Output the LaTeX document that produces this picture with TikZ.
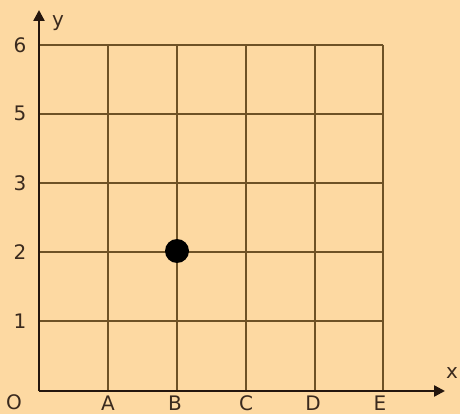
\documentclass[tikz,border=0pt]{standalone}
\usepackage{fontspec}
\setmainfont{DejaVu Sans}
\usetikzlibrary{arrows.meta}
\definecolor{bg}{HTML}{FDD9A2}
\definecolor{gridc}{HTML}{6E5226}
\definecolor{axisc}{HTML}{24160E}
\definecolor{txt}{HTML}{3A2A1E}
\tikzset{
  gridline/.style={draw=gridc, line width=1.3pt},
  axisline/.style={draw=axisc, line width=2.4pt, -{Triangle[length=11pt,width=11pt]}},
  lbl/.style={font=\fontsize{20}{20}\selectfont, text=txt, inner sep=0pt},
}
\begin{document}
\begin{tikzpicture}[x=1pt,y=-1pt]
\fill[bg] (0,0) rectangle (460,414);
\useasboundingbox (0,0) rectangle (460,414);
% grid
\foreach \gx in {108,177,246,315,383} \draw[gridline] (\gx,45) -- (\gx,390);
\foreach \gy in {45,114,183,252,321} \draw[gridline] (39,\gy) -- (383,\gy);
% axes
\coordinate (o) at (39,391);
\coordinate (yt) at (39,10);
\coordinate (xt) at (445,391);
\draw[axisline] (o) -- (yt);
\draw[axisline] (o) -- (xt);
% point
\node[circle, fill=black, minimum size=24pt, inner sep=0pt] (p) at (177,251) {};
% labels
\node[lbl] (ly) at (58,23) {y};
\node[lbl] (lx) at (452,373) {x};
\node[lbl] (l6) at (20,45) {6};
\node[lbl] (l5) at (20,113) {5};
\node[lbl] (l3) at (20,183) {3};
\node[lbl] (l2) at (20,252) {2};
\node[lbl] (l1) at (20,321) {1};
\node[lbl] (l0) at (14,402) {O};
\node[lbl] (la) at (108,403) {A};
\node[lbl] (lb) at (175,403) {B};
\node[lbl] (lc) at (246,403) {C};
\node[lbl] (ld) at (313,403) {D};
\node[lbl] (le) at (380,403) {E};
\end{tikzpicture}
\end{document}
